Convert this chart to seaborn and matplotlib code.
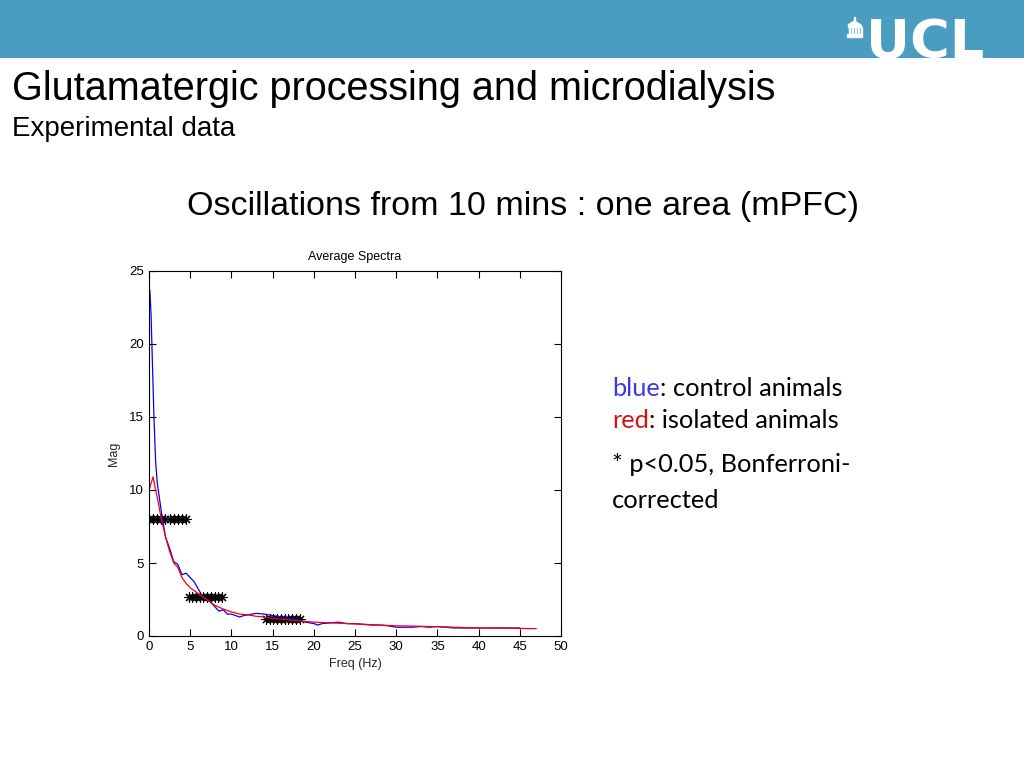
"""Slide recreation: average spectra, control vs isolated animals (mPFC)."""

import matplotlib
matplotlib.use("Agg")
import matplotlib.pyplot as plt
import seaborn as sns
import pandas as pd
import numpy as np

# control animals (blue)
blue_freq = [0.1, 0.25, 0.4, 0.6, 0.8, 1.0, 1.5, 2.0, 2.5, 3.0, 3.5, 4.0, 4.5, 5.0,
             5.5, 6.0, 6.5, 7.0, 7.5, 8.0, 8.5, 9.0, 9.5, 10.0, 11.0, 11.5, 12.0,
             13.0, 14.0, 15.0, 16.0, 17.0, 18.0, 19.0, 20.0, 20.5, 21.0, 22.0,
             23.0, 24.0, 25.0, 26.0, 27.0, 28.0, 29.0, 30.0, 31.0, 32.0, 33.0,
             34.0, 35.0, 36.0, 37.0, 38.0, 40.0, 42.0, 45.0]
blue_mag = [23.7, 22.0, 19.0, 15.0, 12.0, 10.5, 8.5, 6.8, 6.0, 5.1, 4.9, 4.2, 4.3, 4.0,
            3.7, 3.2, 2.7, 2.5, 2.3, 2.0, 1.7, 1.8, 1.5, 1.5, 1.3, 1.4, 1.45,
            1.55, 1.5, 1.4, 1.3, 1.2, 1.1, 0.95, 0.85, 0.75, 0.85, 0.9,
            0.95, 0.85, 0.85, 0.8, 0.75, 0.75, 0.7, 0.6, 0.6, 0.6, 0.65,
            0.6, 0.65, 0.6, 0.55, 0.55, 0.55, 0.55, 0.55]

# isolated animals (red)
red_freq = [0.0, 0.5, 0.8, 1.0, 1.5, 2.0, 2.5, 3.0, 3.5, 4.0, 4.5, 5.0, 6.0, 7.0,
            8.0, 9.0, 10.0, 11.0, 12.0, 13.0, 14.0, 15.0, 16.0, 17.0, 18.0, 19.0,
            20.0, 22.0, 24.0, 26.0, 28.0, 30.0, 32.0, 34.0, 36.0, 38.0, 40.0,
            42.0, 44.0, 47.0]
red_mag = [10.0, 10.9, 10.0, 9.5, 8.0, 6.8, 5.8, 5.0, 4.7, 4.0, 3.6, 3.3, 2.9, 2.5,
           2.1, 1.85, 1.65, 1.5, 1.45, 1.35, 1.3, 1.2, 1.15, 1.1, 1.05, 1.0,
           0.95, 0.9, 0.85, 0.8, 0.75, 0.7, 0.68, 0.65, 0.62, 0.58, 0.55,
           0.55, 0.53, 0.5]

# significant bins (p<0.05, Bonferroni)
sig_freq = [0.0, 0.5, 1.0, 1.5, 2.0, 2.5, 3.0, 3.5, 4.0, 4.5,
            4.8, 5.25, 5.7, 6.15, 6.6, 7.05, 7.5, 7.95, 8.4, 8.9,
            14.2, 14.65, 15.1, 15.55, 16.0, 16.45, 16.9, 17.35, 17.8, 18.3]
sig_mag = [8.0] * 10 + [2.7] * 10 + [1.15] * 10

xticks = [0, 5, 10, 15, 20, 25, 30, 35, 40, 45, 50]
yticks = [0, 5, 10, 15, 20, 25]

banner_color = "#4A9CC0"

df = pd.concat([
    pd.DataFrame({"freq": blue_freq, "mag": blue_mag, "group": "control"}),
    pd.DataFrame({"freq": red_freq, "mag": red_mag, "group": "isolated"}),
])
sig = pd.DataFrame({"freq": sig_freq, "mag": sig_mag})

sns.set_style("ticks")
plt.rcParams["font.family"] = ["Liberation Sans", "DejaVu Sans"]
plt.rcParams["text.color"] = "black"

fig = plt.figure(figsize=(10.24, 7.68), dpi=100)

# banner with UCL logo
banner = fig.add_axes([0, 1 - 58 / 768, 1, 58 / 768])
banner.set_axis_off()
banner.set_xlim(0, 1024)
banner.set_ylim(58, 0)
banner.add_patch(plt.Rectangle((0, 0), 1024, 58, color=banner_color))
banner.text(866, 58, "UCL", color="white", fontsize=39, fontweight="bold",
            family="DejaVu Sans", ha="left", va="baseline")
# little portico icon
banner.add_patch(plt.Rectangle((847, 34), 15, 3, color="white"))
banner.add_patch(plt.Rectangle((848, 25), 13, 2, color="white"))
for cx in range(849, 862, 3):
    banner.add_patch(plt.Rectangle((cx, 27), 1.3, 7, color="white"))
banner.add_patch(plt.Polygon([[848, 25], [854.5, 21], [861, 25]], color="white"))
banner.add_patch(plt.Rectangle((854, 17), 1, 4, color="white"))

# slide text
fig.text(0.012, 1 - 89 / 768, "Glutamatergic processing and microdialysis", fontsize=28.5,
         ha="left", va="center")
fig.text(0.012, 1 - 129 / 768, "Experimental data", fontsize=20, ha="left", va="center")
fig.text(0.511, 1 - 207 / 768, "Oscillations from 10 mins : one area (mPFC)", fontsize=24.5,
         ha="center", va="center")

side_font = ["Lato", "DejaVu Sans"]
side_size = 18.3
renderer = fig.canvas.get_renderer()


def colored_line(x, y, parts):
    for txt, col in parts:
        t = fig.text(x, y, txt, color=col, fontsize=side_size, family=side_font, va="center")
        bb = t.get_window_extent(renderer=renderer)
        x += bb.width / fig.bbox.width


x0 = 612 / 1024
colored_line(x0, 1 - 388 / 768, [("blue", "#3A3AE0"), (": control animals", "black")])
colored_line(x0, 1 - 421 / 768, [("red", "#D41414"), (": isolated animals", "black")])
fig.text(x0, 1 - 465 / 768, "* p<0.05, Bonferroni-", fontsize=side_size, family=side_font,
         va="center")
fig.text(x0, 1 - 500 / 768, "corrected", fontsize=side_size, family=side_font, va="center")

# spectra axes
ax = fig.add_axes([149 / 1024, 1 - 636 / 768, 412 / 1024, 365 / 768])
sns.lineplot(data=df, x="freq", y="mag", hue="group",
             palette={"control": "#0000FF", "isolated": "#FF0000"},
             linewidth=0.9, ax=ax, legend=False, sort=False)
sns.scatterplot(data=sig, x="freq", y="mag", marker=(8, 2, 0), s=45, color="black",
                linewidth=0.8, ax=ax, legend=False)

ax.set_xlim(0, 50)
ax.set_ylim(0, 25)
ax.set_xticks(xticks)
ax.set_yticks(yticks)
ax.tick_params(direction="in", top=True, right=True, labelsize=9.5, length=5, width=0.8,
               colors="black")
for s in ax.spines.values():
    s.set_linewidth(0.8)
    s.set_color("black")
ax.set_title("Average Spectra", fontsize=9, pad=8)
ax.set_xlabel("Freq (Hz)", fontsize=9, labelpad=4)
ax.set_ylabel("Mag", fontsize=9, labelpad=7)

fig.savefig("out.png", dpi=100)
plt.close(fig)
